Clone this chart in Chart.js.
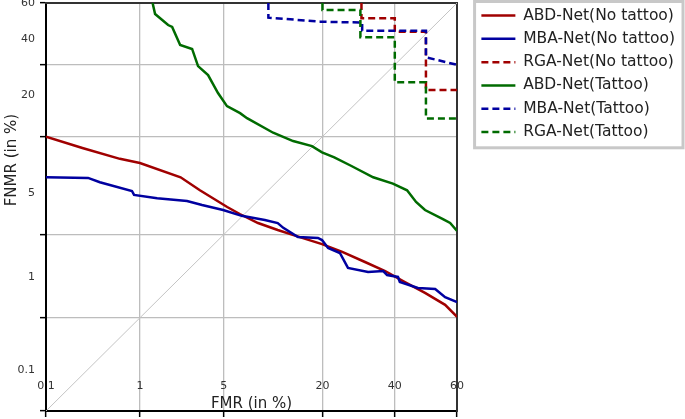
<!DOCTYPE html>
<html>
<head>
<meta charset="utf-8">
<script src="https://cdn.jsdelivr.net/npm/chart.js@4.4.1/dist/chart.umd.min.js"></script>
<style>
  html, body { margin: 0; padding: 0; background: #fff; }
  canvas { display: block; }
</style>
</head>
<body>
<canvas id="det" width="685" height="419"></canvas>
<script>
// tick values and labels (in %)
const xTicks = [0.1, 1, 5, 20, 40, 60];
const yTicks = [0.1, 1, 5, 20, 40, 60];
const xTickLabels = ['0.1', '1', '5', '20', '40', '60'];
const yTickLabels = ['0.1', '1', '5', '20', '40', '60'];
const xTitle = 'FMR (in %)';
const yTitle = 'FNMR (in %)';

const seriesNames = [
  'ABD-Net(No tattoo)', 'MBA-Net(No tattoo)', 'RGA-Net(No tattoo)',
  'ABD-Net(Tattoo)', 'MBA-Net(Tattoo)', 'RGA-Net(Tattoo)'
];

// ABD-Net (No tattoo)
const abdNoFmr = [0.1, 0.26, 0.64, 1.0, 2.3, 3.3, 5.3, 6.5, 8.6, 11.4, 15.7, 19.9, 24.8, 31, 37, 43.2, 49.7, 56.2, 60];
const abdNoFnmr = [20, 17.5, 15.3, 14.5, 12, 10, 7.8, 7.0, 6.06, 5.4, 4.73, 4.25, 3.7, 3.08, 2.6, 2.1, 1.69, 1.32, 1.02];
// MBA-Net (No tattoo)
const mbaNoFmr = [0.1, 0.3, 0.4, 0.84, 0.88, 1.44, 2.6, 3.43, 4.95, 6.7, 9.5, 11.4, 12.3, 14.9, 19.0, 19.9, 21.3, 24.2, 26.3, 31.9, 36.4, 37.6, 41.0, 41.6, 47.4, 53.0, 56.2, 60];
const mbaNoFnmr = [12.0, 11.9, 11.2, 9.9, 9.35, 8.9, 8.55, 8.05, 7.45, 6.8, 6.36, 6.06, 5.6, 4.8, 4.73, 4.56, 3.97, 3.63, 2.76, 2.55, 2.6, 2.41, 2.32, 2.1, 1.87, 1.83, 1.55, 1.40];
// RGA-Net (No tattoo)
const rgaNoFmr = [30, 30, 40, 40, 50, 50, 60];
const rgaNoFnmr = [60, 55.1, 55.1, 50.7, 50.7, 32.3, 32.3];
// ABD-Net (Tattoo)
const abdTatFmr = [1.31, 1.38, 1.80, 1.95, 2.28, 2.86, 3.19, 3.82, 4.54, 5.28, 6.53, 7.28, 10.7, 14.0, 17.7, 19.9, 22.8, 27.1, 33.4, 39.4, 43.9, 46.8, 49.7, 55.5, 57.8, 60];
const abdTatFnmr = [60, 56.5, 52.9, 52.3, 46.4, 45.1, 39.6, 36.8, 31.4, 27.7, 25.8, 24.5, 20.9, 19.0, 17.9, 16.6, 15.6, 14.0, 12.0, 11.0, 10.0, 8.43, 7.45, 6.46, 6.06, 5.32];
// MBA-Net (Tattoo)
const mbaTatFmr = [10, 10, 19.5, 30.2, 30.2, 50, 50, 60];
const mbaTatFnmr = [60, 55.3, 54.0, 53.7, 51.0, 51.0, 42.4, 40];
// RGA-Net (Tattoo)
const rgaTatFmr = [20, 20, 29.7, 29.7, 40, 40, 50, 50, 60];
const rgaTatFnmr = [60, 57.8, 57.8, 48.9, 48.9, 34.6, 34.6, 24.4, 24.4];
// equal error line
const diagFmr = [0.1, 60];
const diagFnmr = [0.1, 60];

const red = '#a00000';
const blue = '#0000a0';
const green = '#006b00';

// inverse normal cdf (Acklam)
function probit(p) {
  const a = [-3.969683028665376e+01, 2.209460984245205e+02, -2.759285104469687e+02, 1.383577518672690e+02, -3.066479806614716e+01, 2.506628277459239e+00];
  const b = [-5.447609879822406e+01, 1.615858368580409e+02, -1.556989798598866e+02, 6.680131188771972e+01, -1.328068155288572e+01];
  const c = [-7.784894002430293e-03, -3.223964580411365e-01, -2.400758277161838e+00, -2.549732539343734e+00, 4.374664141464968e+00, 2.938163982698783e+00];
  const d = [7.784695709041462e-03, 3.224671290700398e-01, 2.445134137142996e+00, 3.754408661907416e+00];
  const pLow = 0.02425;
  let q, r;
  if (p < pLow) {
    q = Math.sqrt(-2 * Math.log(p));
    return (((((c[0] * q + c[1]) * q + c[2]) * q + c[3]) * q + c[4]) * q + c[5]) / ((((d[0] * q + d[1]) * q + d[2]) * q + d[3]) * q + 1);
  }
  if (p > 1 - pLow) {
    q = Math.sqrt(-2 * Math.log(1 - p));
    return -(((((c[0] * q + c[1]) * q + c[2]) * q + c[3]) * q + c[4]) * q + c[5]) / ((((d[0] * q + d[1]) * q + d[2]) * q + d[3]) * q + 1);
  }
  q = p - 0.5;
  r = q * q;
  return (((((a[0] * r + a[1]) * r + a[2]) * r + a[3]) * r + a[4]) * r + a[5]) * q / (((((b[0] * r + b[1]) * r + b[2]) * r + b[3]) * r + b[4]) * r + 1);
}

function normCdf(z) {
  const t = 1 / (1 + 0.3275911 * Math.abs(z) / Math.SQRT2);
  const y = 1 - (((((1.061405429 * t - 1.453152027) * t) + 1.421413741) * t - 0.284496736) * t + 0.254829592) * t * Math.exp(-z * z / 2);
  return z >= 0 ? (1 + y) / 2 : (1 - y) / 2;
}

// DET axis: percentages on a normal deviate scale
class ProbitScale extends Chart.Scale {
  determineDataLimits() {
    this.min = this.options.min;
    this.max = this.options.max;
  }
  buildTicks() {
    return (this.options.tickValues || []).map(value => ({ value }));
  }
  configure() {
    super.configure();
    this._zStart = probit(this.min / 100);
    this._zRange = probit(this.max / 100) - this._zStart;
  }
  getPixelForValue(value) {
    return this.getPixelForDecimal((probit(value / 100) - this._zStart) / this._zRange);
  }
  getValueForPixel(pixel) {
    return normCdf(this._zStart + this.getDecimalForPixel(pixel) * this._zRange) * 100;
  }
  getLabelForValue(value) {
    return String(value);
  }
  _computeLabelItems(chartArea) {
    const items = super._computeLabelItems(chartArea);
    const gap = this.options.ticks.minLabelGap;
    if (!this.isHorizontal() && gap) {
      let prev = null;
      for (let i = items.length - 1; i >= 0; i--) {
        const t = items[i].options.translation;
        t[1] = Math.max(t[1], prev === null ? this.top : prev + gap);
        prev = t[1];
      }
    }
    return items;
  }
}
ProbitScale.id = 'probit';
ProbitScale.defaults = {};
Chart.register(ProbitScale);

Chart.defaults.font.family = '"DejaVu Sans", Verdana, sans-serif';

function points(xs, ys) {
  return xs.map((x, i) => ({ x, y: ys[i] }));
}

function series(i, xs, ys, color, dashed) {
  return {
    label: seriesNames[i],
    data: points(xs, ys),
    borderColor: color,
    backgroundColor: color,
    borderWidth: 2.5,
    borderDash: dashed ? [7, 4] : [],
    pointRadius: 0,
    tension: 0,
    order: 6 - i,
    xAxisID: 'x',
    yAxisID: 'y'
  };
}

const datasets = [
  series(0, abdNoFmr, abdNoFnmr, red, false),
  series(1, mbaNoFmr, mbaNoFnmr, blue, false),
  series(2, rgaNoFmr, rgaNoFnmr, red, true),
  series(3, abdTatFmr, abdTatFnmr, green, false),
  series(4, mbaTatFmr, mbaTatFnmr, blue, true),
  series(5, rgaTatFmr, rgaTatFnmr, green, true),
  {
    label: 'EER',
    data: points(diagFmr, diagFnmr),
    borderColor: '#c4c4c4',
    borderWidth: 1,
    pointRadius: 0,
    order: 10,
    xAxisID: 'x',
    yAxisID: 'y'
  }
];

const innerGrid = ctx => (ctx.tick && (ctx.tick.value === 0.1 || ctx.tick.value === 60)) ? 'rgba(0,0,0,0)' : '#bdbdbd';

// fixed axis sizes, no extra room for overhanging labels
const fitTo = (w, h) => s => {
  if (w !== null) s.width = w;
  if (h !== null) s.height = h;
  s.paddingTop = 0;
  s.paddingBottom = 0;
  s.paddingLeft = 0;
  s.paddingRight = 0;
};

// legend samples keep the dataset's line width and dash
const legendLabels = chart =>
  Chart.defaults.plugins.legend.labels.generateLabels(chart).map(item => {
    const ds = chart.data.datasets[item.datasetIndex];
    return Object.assign(item, { lineDash: ds.borderDash || [], lineWidth: ds.borderWidth, strokeStyle: ds.borderColor });
  });

const legendFrame = {
  id: 'legendFrame',
  afterDraw(chart) {
    const l = chart.legend;
    const boxes = l.legendHitBoxes;
    if (!boxes || !boxes.length) return;
    const last = boxes[boxes.length - 1];
    const ctx = chart.ctx;
    ctx.save();
    ctx.strokeStyle = '#c8c8c8';
    ctx.lineWidth = 3;
    const x0 = l.left + 1, y0 = 1.5, x1 = l.right - 2, y1 = last.top + last.height + 8;
    ctx.strokeRect(x0, y0, x1 - x0, y1 - y0);
    ctx.restore();
  }
};

const yAxisTitle = {
  id: 'yAxisTitle',
  afterDraw(chart) {
    const { ctx, chartArea } = chart;
    ctx.save();
    ctx.font = '15px "DejaVu Sans"';
    ctx.fillStyle = '#222';
    ctx.textAlign = 'center';
    ctx.textBaseline = 'middle';
    ctx.translate(12, chartArea.top + (chartArea.bottom - chartArea.top) * 0.385);
    ctx.rotate(-Math.PI / 2);
    ctx.fillText(yTitle, 0, 0);
    ctx.restore();
  }
};

new Chart(document.getElementById('det'), {
  type: 'line',
  data: { datasets },
  options: {
    responsive: false,
    animation: false,
    events: [],
    plugins: {
      legend: {
        position: 'right',
        align: 'start',
        maxWidth: 300,
        labels: {
          usePointStyle: true,
          pointStyle: 'line',
          pointStyleWidth: 34,
          font: { size: 15.5 },
          color: '#222',
          padding: 7.8,
          generateLabels: legendLabels,
          filter: item => item.datasetIndex < seriesNames.length,
          sort: (a, b) => a.datasetIndex - b.datasetIndex
        }
      },
      tooltip: { enabled: false }
    },
    scales: {
      x: {
        type: 'probit',
        position: 'bottom',
        min: 0.1,
        max: 60,
        tickValues: xTicks,
        afterFit: fitTo(null, 8),
        grid: { color: innerGrid, lineWidth: 1.3, tickLength: 6, tickColor: '#000', tickWidth: 1.5 },
        border: { color: '#000', width: 2 },
        ticks: {
          mirror: true, padding: 18, autoSkip: false, maxRotation: 0, minRotation: 0,
          font: { size: 11 }, color: '#333',
          callback: (v, i) => xTickLabels[i]
        },
        title: { display: true, text: xTitle, font: { size: 15 }, color: '#222', padding: 6 }
      },
      y: {
        type: 'probit',
        position: 'left',
        min: 0.1,
        max: 60,
        tickValues: yTicks,
        afterFit: fitTo(46, null),
        grid: { color: innerGrid, lineWidth: 1.3, tickLength: 6, tickColor: '#000', tickWidth: 1.5 },
        border: { color: '#000', width: 2 },
        ticks: {
          padding: 5, labelOffset: -41, minLabelGap: 36, autoSkip: false,
          font: { size: 11 }, color: '#333',
          callback: (v, i) => yTickLabels[i]
        }
      },
      xTop: {
        type: 'linear',
        position: 'top',
        afterFit: fitTo(null, 3),
        grid: { display: false },
        ticks: { display: false },
        border: { color: '#333', width: 2 }
      },
      yRight: {
        type: 'linear',
        position: 'right',
        afterFit: fitTo(16.5, null),
        grid: { display: false },
        ticks: { display: false },
        border: { color: '#333', width: 2 }
      }
    }
  },
  plugins: [legendFrame, yAxisTitle]
});
</script>
</body>
</html>
